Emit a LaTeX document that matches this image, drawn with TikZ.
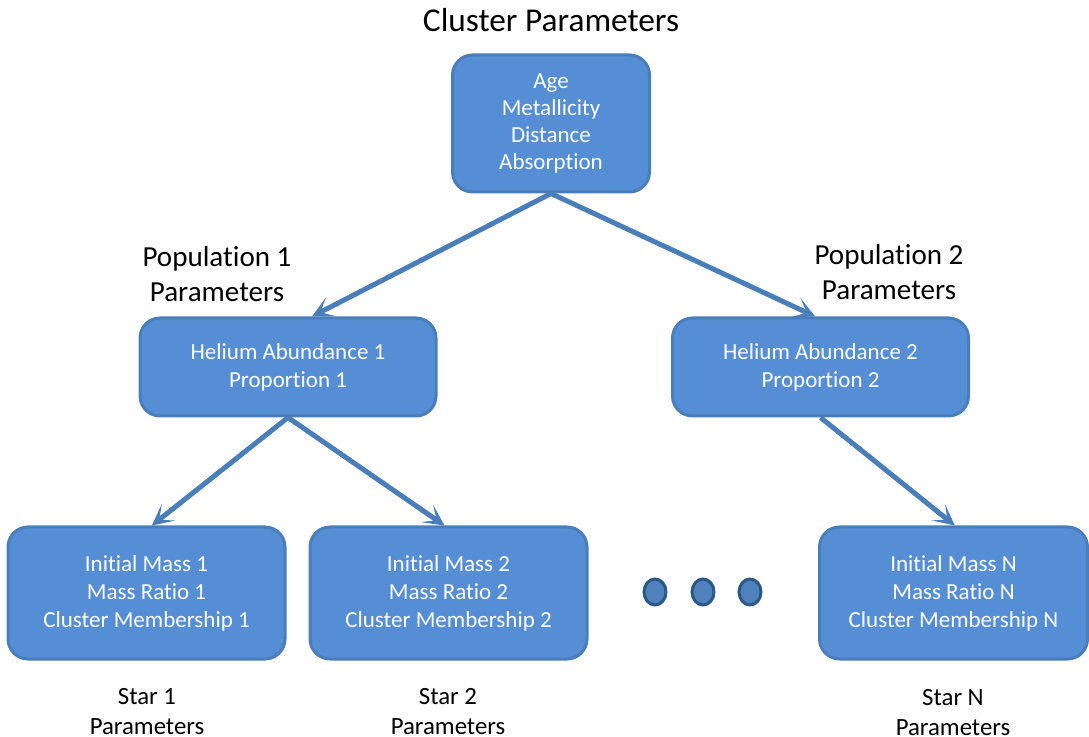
\documentclass[tikz,border=0pt]{standalone}
\usepackage{fontspec}
\setmainfont[Ligatures=NoCommon]{Carlito}
\usetikzlibrary{arrows.meta,calc,shapes.geometric}
\definecolor{boxfill}{HTML}{558ED5}
\definecolor{boxline}{HTML}{4A7EBB}
\definecolor{arrowcol}{HTML}{4A7EBB}
\definecolor{dotfill}{HTML}{4F81BD}
\definecolor{dotline}{HTML}{2C5887}
\tikzset{
  pbox/.style={draw=boxline, fill=boxfill, line width=2.25pt, rounded corners=15pt,
    text=white, align=center, font=\fontsize{17.25}{20.6}\selectfont, inner sep=0pt},
  conn/.style={draw=arrowcol, line width=3.75pt, -{Stealth[length=16pt,width=16pt,inset=9pt]}},
  lbl/.style={align=center, text=black, inner sep=0pt},
  dot/.style={ellipse, draw=dotline, fill=dotfill, line width=2.25pt, minimum width=16.5pt, minimum height=19.5pt, inner sep=0pt}
}
\begin{document}
\begin{tikzpicture}[x=0.75pt,y=-0.75pt]
\useasboundingbox (0,0) rectangle (1089,737);
\node[pbox, minimum width=147.75pt, minimum height=102.75pt] (top) at (551,123.5) {Age\\[-0.3pt]Metallicity\\[-0.3pt]Distance\\[-0.3pt]Absorption};
\node[pbox, minimum width=222pt, minimum height=73.5pt] (pop1) at (288,367) {Helium Abundance 1\\[0.4pt]Proportion 1};
\node[pbox, minimum width=222pt, minimum height=73.5pt] (pop2) at (820.5,367) {Helium Abundance 2\\[0.4pt]Proportion 2};
\node[pbox, minimum width=207.75pt, minimum height=99pt] (s1) at (146.5,593) {Initial Mass 1\\[0.4pt]Mass Ratio 1\\[0.4pt]Cluster Membership 1};
\node[pbox, minimum width=207.75pt, minimum height=99pt] (s2) at (448.5,593) {Initial Mass 2\\[0.4pt]Mass Ratio 2\\[0.4pt]Cluster Membership 2};
\node[pbox, minimum width=201pt, minimum height=99pt] (sN) at (953.5,593) {Initial Mass N\\[0.4pt]Mass Ratio N\\[0.4pt]Cluster Membership N};

\node[dot] (d1) at (655,592) {};
\node[dot] (d2) at (703,592) {};
\node[dot] (d3) at (750,592) {};

\node[lbl, font=\fontsize{25}{30}\selectfont] (tl) at (551,20) {Cluster Parameters};
\node[lbl, font=\fontsize{21.8}{26.25}\selectfont] (p1l) at (217,274) {Population 1\\Parameters};
\node[lbl, font=\fontsize{21.8}{26.25}\selectfont] (p2l) at (889,272) {Population 2\\Parameters};
\node[lbl, font=\fontsize{18.6}{22.5}\selectfont] (s1l) at (147,712) {Star 1\\Parameters};
\node[lbl, font=\fontsize{18.6}{22.5}\selectfont] (s2l) at (448,712) {Star 2\\Parameters};
\node[lbl, font=\fontsize{18.6}{22.5}\selectfont] (sNl) at (953,713) {Star N\\Parameters};

\draw[conn] (top.south) -- ([xshift=18pt]pop1.north);
\draw[conn] (top.south) -- ([xshift=-4pt]pop2.north);
\draw[conn] (pop1.south) -- ([xshift=4pt]s1.north);
\draw[conn] (pop1.south) -- ([xshift=-3pt]s2.north);
\draw[conn] (pop2.south) -- ([xshift=1pt]sN.north);
\end{tikzpicture}
\end{document}
